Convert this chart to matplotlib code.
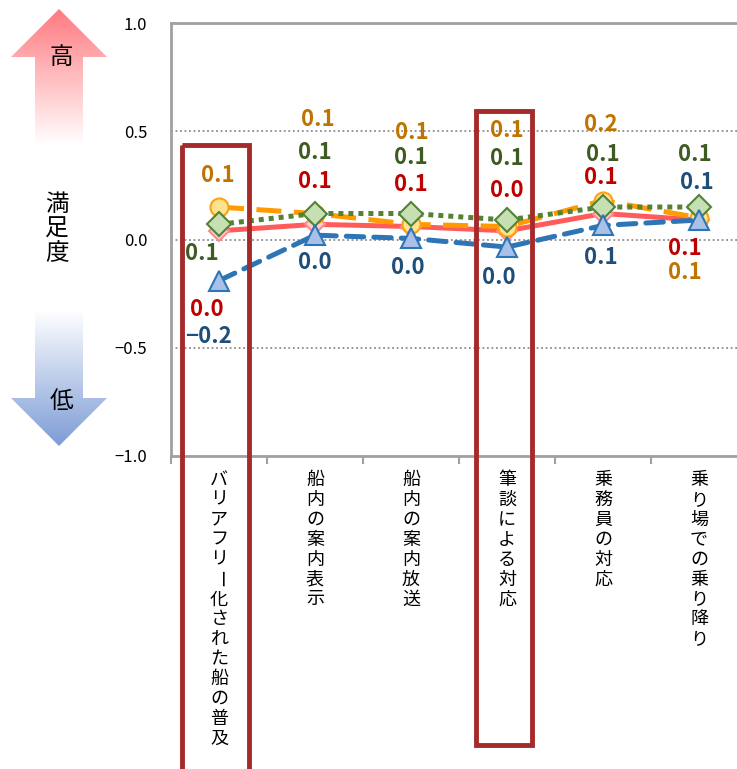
import matplotlib
matplotlib.use("Agg")
import matplotlib.pyplot as plt
import numpy as np
from matplotlib.patches import Polygon, Rectangle
from matplotlib.transforms import blended_transform_factory
from matplotlib.colors import to_rgb

plt.rcParams['font.family'] = ['Noto Sans CJK JP', 'DejaVu Sans']

# data
categories = ["バリアフリー化された船の普及", "船内の案内表示", "船内の案内放送",
              "筆談による対応", "乗務員の対応", "乗り場での乗り降り"]
red_vals = [0.04, 0.07, 0.06, 0.04, 0.12, 0.09]
orange_vals = [0.15, 0.12, 0.07, 0.06, 0.18, 0.10]
green_vals = [0.07, 0.12, 0.12, 0.09, 0.15, 0.15]
blue_vals = [-0.19, 0.02, 0.005, -0.035, 0.065, 0.09]
yticks = [-1.0, -0.5, 0.0, 0.5, 1.0]

# label offsets (pixels, dx right / dy down) relative to each point
red_off = [(-12, 79), (0, -43), (0, -42), (0, -40), (-2, -36), (-14, 28)]
orange_off = [(-1, -32), (3, -94), (1, -92), (0, -96), (-2, -76), (-14, 55)]
green_off = [(-17, 29), (0, -61), (0, -56), (0, -62), (0, -53), (-4, -53)]
blue_off = [(-11, 56), (0, 27), (-3, 29), (-8, 30), (-2, 32), (-2, -38)]

W, H = 737, 769
fig = plt.figure(figsize=(W / 100, H / 100), dpi=100)
ax = fig.add_axes([171 / W, (H - 456) / H, 576 / W, (456 - 23) / H])
ov = fig.add_axes([0, 0, 1, 1], zorder=5)
ov.patch.set_alpha(0)
ov.axis('off')

x = np.arange(len(categories))

series = [
    (red_vals, red_off, dict(color='#FF5B5B', ls='-', marker='D', ms=10, mfc='#FFCCD0', mec='#FF8A8F', mew=1.5), '#C00000'),
    (orange_vals, orange_off, dict(color='#FF9A00', ls=(0, (5, 2.5)), marker='o', ms=13, mfc='#FFE38F', mec='#FFA010', mew=1.5), '#BF7300'),
    (green_vals, green_off, dict(color='#548235', ls=(0, (1, 1)), marker='D', ms=12, mfc='#C6E0B4', mec='#548235', mew=1.5), '#3E5C22'),
    (blue_vals, blue_off, dict(color='#2E75B6', ls=(0, (3.5, 2)), marker='^', ms=15, mfc='#A9C0E8', mec='#2E75B6', mew=1.5, dash_capstyle='round'), '#1F4E79'),
]

for k, (vals, offs, style, tcol) in enumerate(series):
    ax.plot(x, vals, lw=3.6, zorder=3 + k, clip_on=False, **style)
    for i, v in enumerate(vals):
        s = f"{v:.1f}"
        if s == "-0.0":
            s = "0.0"
        s = s.replace("-", "\u2212")
        dx, dy = offs[i]
        ax.annotate(s, (i, v), xytext=(dx, -dy), textcoords='offset pixels',
                    ha='center', va='center', fontsize=16, fontweight='bold',
                    color=tcol, zorder=10)

ax.set_xlim(-0.5, len(categories) - 0.5)
ax.set_ylim(-1, 1)
ax.set_yticks(yticks)
ax.set_yticklabels([f"{t:.1f}".replace("-", "\u2212") for t in yticks], fontsize=12)
ax.tick_params(axis='y', length=0, pad=17)
ax.set_xticks(x)
ax.set_xticklabels([])
ax.tick_params(axis='x', which='major', length=0)
ax.set_xticks(np.arange(len(categories) + 1) - 0.5, minor=True)
ax.tick_params(axis='x', which='minor', length=6, width=1.5, color='#A0A0A0', direction='out')
for t in [-0.5, 0.0, 0.5]:
    ax.axhline(t, color='#8C8C8C', lw=1.3, ls=(0, (1, 1.5)), zorder=1)
for side in ['left', 'top', 'bottom']:
    ax.spines[side].set_color('#A0A0A0')
    ax.spines[side].set_linewidth(2)
ax.spines['right'].set_visible(False)

# category labels written vertically, one character per line
trans = blended_transform_factory(ax.transData, ov.transData)
for i, lab in enumerate(categories):
    for j, ch in enumerate(lab):
        rot = -90 if ch == 'ー' else 0
        ax.text(i, 480 + 19.9 * j, ch, transform=trans, ha='center', va='center',
                fontsize=13, rotation=rot, clip_on=False)

# gradient arrows on the left
ov.set_xlim(0, W)
ov.set_ylim(H, 0)


def grad_arrow(pts, c_top, c_bot, y0, y1):
    poly = Polygon(pts, closed=True, fc='none', ec='none')
    ov.add_patch(poly)
    t = np.linspace(0, 1, 256)[:, None, None]
    img = (1 - t) * np.array(to_rgb(c_top)) + t * np.array(to_rgb(c_bot))
    img = np.repeat(img, 2, axis=1)
    im = ov.imshow(img, extent=[11, 107, y1, y0], origin='upper', aspect='auto', zorder=1)
    im.set_clip_path(poly)


grad_arrow([(59, 9), (107, 57), (83, 57), (83, 145), (35, 145), (35, 57), (11, 57)],
           '#FF7A80', '#FFFFFF', 9, 145)
grad_arrow([(35, 310), (83, 310), (83, 398), (107, 398), (59, 446), (11, 398), (35, 398)],
           '#FFFFFF', '#7D9CD6', 310, 446)
ov.set_xlim(0, W)
ov.set_ylim(H, 0)
ov.text(61, 58, "高", fontsize=17, ha='center', va='center', zorder=3)
ov.text(61, 402, "低", fontsize=17, ha='center', va='center', zorder=3)
ov.text(57, 229, "満\n足\n度", fontsize=17, ha='center', va='center', linespacing=1.1, zorder=3)

# highlight boxes
ov.add_patch(Rectangle((182, 145), 67, 640, fill=False, ec='#A52A2A', lw=3.5, zorder=4))
ov.add_patch(Rectangle((476, 111), 56, 634, fill=False, ec='#A52A2A', lw=3.5, zorder=4))

fig.savefig("out.png", dpi=100)
